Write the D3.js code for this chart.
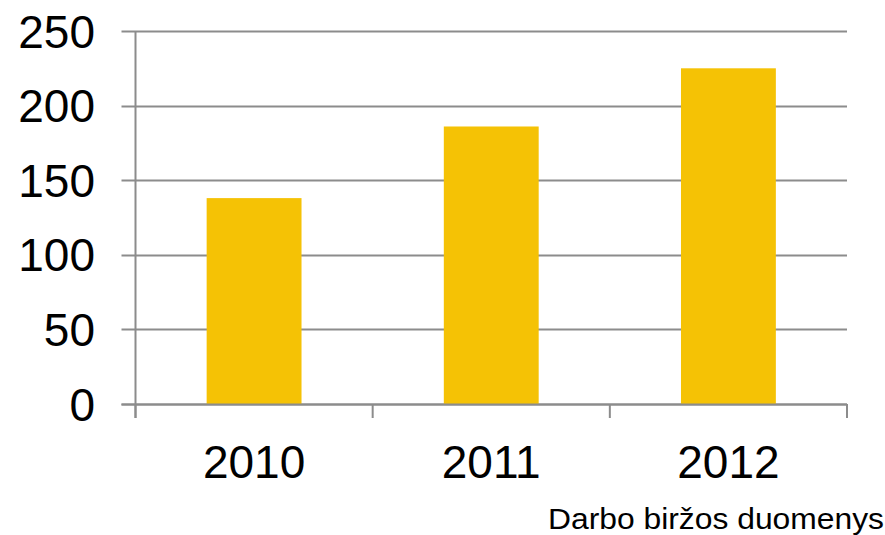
<!DOCTYPE html>
<html>
<head>
<meta charset="utf-8">
<script src="https://cdn.jsdelivr.net/npm/d3@7"></script>
<style>
  html, body { margin: 0; padding: 0; background: #fff; }
  svg { display: block; font-family: "Liberation Sans", Arial, sans-serif; }
</style>
</head>
<body>
<svg id="chart" width="885" height="535"></svg>
<script>
const categories = ["2010", "2011", "2012"];
const values = [138, 186, 225];
const yTicks = [0, 50, 100, 150, 200, 250];
const sourceText = "Darbo biržos duomenys";

(function () {
const svg = d3.select("#chart");
const plotLeft = 135.5, plotRight = 847, plotTop = 31, plotBottom = 404;

const x = d3.scaleBand().domain(categories).range([plotLeft, plotRight]).paddingInner(0.6).paddingOuter(0.3);
const xOuter = d3.scaleBand().domain(categories).range([plotLeft, plotRight]);
const y = d3.scaleLinear().domain([0, 250]).range([plotBottom, plotTop]);

const grey = "#8c8c8c";

// gridlines with outward ticks
svg.append("g").selectAll("line").data(yTicks).join("line")
  .attr("x1", plotLeft - 14).attr("x2", plotRight)
  .attr("y1", d => Math.round(y(d)) + 0.5).attr("y2", d => Math.round(y(d)) + 0.5)
  .attr("stroke", grey).attr("stroke-width", 2);

// bars
svg.append("g").selectAll("rect").data(values).join("rect")
  .attr("x", (d, i) => x(categories[i]))
  .attr("width", x.bandwidth())
  .attr("y", d => y(d))
  .attr("height", d => y(0) - y(d))
  .attr("fill", "#f5c205");

// y axis line
svg.append("line").attr("x1", plotLeft).attr("x2", plotLeft).attr("y1", plotTop).attr("y2", plotBottom + 14)
  .attr("stroke", grey).attr("stroke-width", 2);

// baseline
svg.append("line").attr("x1", plotLeft - 14).attr("x2", plotRight).attr("y1", plotBottom + 0.5).attr("y2", plotBottom + 0.5)
  .attr("stroke", grey).attr("stroke-width", 2);

// x tick marks at category boundaries
const bounds = categories.map(c => xOuter(c)).concat([plotRight]);
svg.append("g").selectAll("line").data(bounds).join("line")
  .attr("x1", d => d).attr("x2", d => d)
  .attr("y1", plotBottom).attr("y2", plotBottom + 14)
  .attr("stroke", grey).attr("stroke-width", 2);

// y labels
svg.append("g").selectAll("text").data(yTicks).join("text")
  .attr("x", 95).attr("y", d => y(d)).attr("dy", "0.36em")
  .attr("text-anchor", "end").attr("font-size", 46).attr("fill", "#000")
  .text(d => d);

// x labels
svg.append("g").selectAll("text").data(categories).join("text")
  .attr("x", d => xOuter(d) + xOuter.bandwidth() / 2).attr("y", 478)
  .attr("text-anchor", "middle").attr("font-size", 46).attr("fill", "#000")
  .text(d => d);

// source
svg.append("text").attr("x", 548).attr("y", 529)
  .attr("font-size", 30).attr("fill", "#000")
  .attr("textLength", 336).attr("lengthAdjust", "spacingAndGlyphs")
  .text(sourceText);
})();
</script>
</body>
</html>
